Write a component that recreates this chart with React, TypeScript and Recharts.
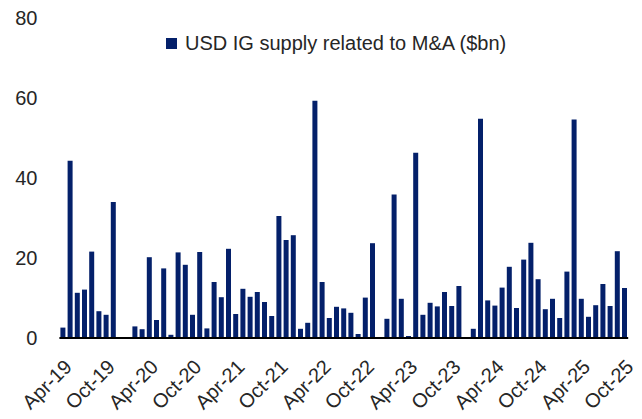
import React from "react";
import { BarChart, Bar, XAxis, YAxis, Legend } from "recharts";

const months = [
  "Apr-19", "May-19", "Jun-19", "Jul-19", "Aug-19", "Sep-19", "Oct-19", "Nov-19", "Dec-19",
  "Jan-20", "Feb-20", "Mar-20", "Apr-20", "May-20", "Jun-20", "Jul-20", "Aug-20", "Sep-20", "Oct-20", "Nov-20", "Dec-20",
  "Jan-21", "Feb-21", "Mar-21", "Apr-21", "May-21", "Jun-21", "Jul-21", "Aug-21", "Sep-21", "Oct-21", "Nov-21", "Dec-21",
  "Jan-22", "Feb-22", "Mar-22", "Apr-22", "May-22", "Jun-22", "Jul-22", "Aug-22", "Sep-22", "Oct-22", "Nov-22", "Dec-22",
  "Jan-23", "Feb-23", "Mar-23", "Apr-23", "May-23", "Jun-23", "Jul-23", "Aug-23", "Sep-23", "Oct-23", "Nov-23", "Dec-23",
  "Jan-24", "Feb-24", "Mar-24", "Apr-24", "May-24", "Jun-24", "Jul-24", "Aug-24", "Sep-24", "Oct-24", "Nov-24", "Dec-24",
  "Jan-25", "Feb-25", "Mar-25", "Apr-25", "May-25", "Jun-25", "Jul-25", "Aug-25", "Sep-25", "Oct-25",
];

// USD IG supply related to M&A, $bn
const supply = [
  2.6, 44.3, 11.3, 12.1, 21.6, 6.7, 5.8, 34.0, 0,
  0, 2.9, 2.2, 20.2, 4.5, 17.4, 0.8, 21.4, 18.3, 5.8, 21.5, 2.4,
  14.0, 10.2, 22.3, 6.0, 12.3, 10.3, 11.5, 9.0, 5.5, 30.5, 24.5, 25.7,
  2.3, 3.8, 59.3, 14.0, 5.0, 7.8, 7.4, 6.3, 1.0, 10.1, 23.7, 0,
  4.8, 35.9, 9.8, 0.5, 46.3, 5.8, 8.8, 7.9, 11.5, 8.0, 13.0, 0,
  2.3, 54.8, 9.4, 8.1, 12.6, 17.8, 7.5, 19.6, 23.8, 14.7, 7.2, 9.8,
  5.0, 16.6, 54.6, 9.8, 5.3, 8.2, 13.5, 8.0, 21.7, 12.5,
];

const yTicks = [0, 20, 40, 60, 80];

const data = months.map((m, i) => ({ month: m, supply: supply[i] }));

const navy = "#04206a";
const font = "'Liberation Sans', Arial, sans-serif";
const textColor = "#262626";

const LegendBox = () => (
  <div style={{ display: "flex", alignItems: "center", height: 20, fontFamily: font, fontSize: 20, color: textColor, whiteSpace: "nowrap" }}>
    <span style={{ display: "inline-block", width: 11, height: 11, background: navy, marginRight: 8 }} />
    <span style={{ lineHeight: "20px" }}>USD IG supply related to M&amp;A ($bn)</span>
  </div>
);

export default function App() {
  return (
    <div style={{ position: "absolute", left: 0, top: 0, width: 642, height: 419, background: "#fff" }}>
      {/* the legend box (20px) is added to the top offset, hence the -2 */}
      <BarChart width={642} height={419} data={data} margin={{ top: -2, right: 13.8, bottom: 0, left: 0 }}>
        <XAxis
          dataKey="month"
          interval={5}
          height={81}
          tickSize={0}
          tickMargin={20}
          axisLine={{ stroke: "#000", strokeWidth: 2 }}
          tickLine={false}
          angle={-45}
          textAnchor="end"
          tick={{ fontSize: 20, fill: textColor, fontFamily: font }}
        />
        <YAxis
          width={59.4}
          domain={[0, 80]}
          ticks={yTicks}
          axisLine={false}
          tickLine={false}
          tickSize={0}
          tickMargin={22}
          tick={{ fontSize: 20, fill: textColor, fontFamily: font }}
        />
        <Legend
          verticalAlign="top"
          align="left"
          content={() => <LegendBox />}
          wrapperStyle={{ top: 33, left: 166, width: "auto" }}
        />
        <Bar dataKey="supply" fill={navy} barSize={5} isAnimationActive={false} />
      </BarChart>
    </div>
  );
}
